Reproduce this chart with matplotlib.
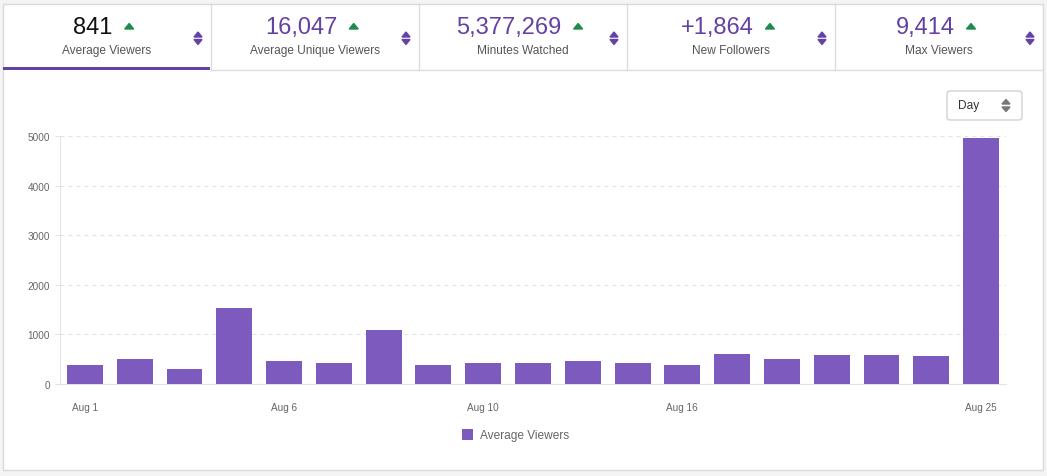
import matplotlib
matplotlib.use("Agg")
import matplotlib.pyplot as plt
from matplotlib.patches import Rectangle, FancyBboxPatch, Polygon
from matplotlib import rcParams

rcParams['font.family'] = ['Liberation Sans', 'DejaVu Sans']

# ---- data ----
day_labels = ["Aug 1", "", "", "", "Aug 6", "", "", "", "Aug 10", "", "", "",
              "Aug 16", "", "", "", "", "", "Aug 25"]
avg_viewers = [383, 503, 302, 1530, 463, 429, 1093, 383, 429, 429, 463, 429,
               383, 604, 503, 584, 584, 564, 4954]
y_ticks = [0, 1000, 2000, 3000, 4000, 5000]

tab_values = ["841", "16,047", "5,377,269", "+1,864", "9,414"]
tab_names = ["Average Viewers", "Average Unique Viewers", "Minutes Watched",
             "New Followers", "Max Viewers"]

purple = "#7d5bbe"
dark_purple = "#6441a4"
green = "#1f8b4c"
grey_txt = "#666666"
line_col = "#e3e3e3"

W, H = 1047, 477
fig = plt.figure(figsize=(W / 100, H / 100), dpi=100)
fig.patch.set_facecolor("#f4f4f4")

# background / header drawn in pixel coordinates
bg = fig.add_axes([0, 0, 1, 1], zorder=0)
bg.set_xlim(0, W)
bg.set_ylim(H, 0)
bg.axis("off")

bg.add_patch(Rectangle((3, 5), 1040, 466, facecolor="white", edgecolor="#dadada", lw=1))

tab_w = 208
for i in range(5):
    x0 = 3 + i * tab_w
    cx = x0 + tab_w / 2
    if i > 0:
        bg.plot([x0, x0], [5, 71], color="#dcdcdc", lw=1)
    # value + green arrow
    col = "#111111" if i == 0 else dark_purple
    t = bg.text(cx - 14, 28, tab_values[i], ha="center", va="center",
                fontsize=17, color=col)
    r = fig.canvas.get_renderer()
    bb = t.get_window_extent(renderer=r)
    right = bb.x1 + 12
    bg.add_patch(Polygon([[right, 30], [right + 9, 30], [right + 4.5, 24.5]],
                         closed=True, color=green))
    bg.text(cx, 51, tab_names[i], ha="center", va="center", fontsize=8.6,
            color="#555555")
    # sort arrows
    ax_x = x0 + tab_w - 13
    bg.add_patch(Polygon([[ax_x - 4, 38], [ax_x + 4, 38], [ax_x, 33]],
                         closed=True, color=dark_purple))
    bg.add_patch(Polygon([[ax_x - 4, 40.5], [ax_x + 4, 40.5], [ax_x, 45.5]],
                         closed=True, color=dark_purple))

bg.plot([211, 1043], [71, 71], color="#dcdcdc", lw=1)
bg.add_patch(Rectangle((3, 67.5), 207, 3.5, color=dark_purple, lw=0))

# "Day" dropdown
bg.add_patch(FancyBboxPatch((947, 92), 75, 29, boxstyle="round,pad=0,rounding_size=3",
                            facecolor="white", edgecolor="#d2d2d2", lw=1))
bg.text(958, 106.5, "Day", ha="left", va="center", fontsize=8.6, color="#333333")
bg.add_patch(Polygon([[1002, 105], [1010, 105], [1006, 100.5]], closed=True, color="#777777"))
bg.add_patch(Polygon([[1002, 108], [1010, 108], [1006, 112.5]], closed=True, color="#777777"))

# legend
bg.add_patch(Rectangle((462, 430), 11, 11, color=purple, lw=0))
bg.text(480, 436, "Average Viewers", ha="left", va="center", fontsize=8.6,
        color=grey_txt)

# ---- chart ----
ax = fig.add_axes([60 / W, (H - 385) / H, 946 / W, 248 / H], zorder=1)
ax.set_facecolor("none")
x = list(range(len(avg_viewers)))
ax.bar(x, avg_viewers, width=0.72, color=purple, zorder=3)

ax.set_xlim(-0.5, len(avg_viewers) - 0.5)
ax.set_ylim(0, 5000)
ax.set_yticks(y_ticks)
ax.set_yticklabels([str(v) for v in y_ticks])
ax.set_xticks([i for i, l in enumerate(day_labels) if l])
ax.set_xticklabels([l for l in day_labels if l])

ax.yaxis.grid(True, color=line_col, linestyle=(0, (3.6, 3.6)), lw=0.8, zorder=0)
ax.xaxis.grid(False)
for s in ["top", "right"]:
    ax.spines[s].set_visible(False)
for s in ["left", "bottom"]:
    ax.spines[s].set_color(line_col)
    ax.spines[s].set_linewidth(0.8)

ax.tick_params(axis="y", length=3.6, width=0.8, color=line_col, pad=3.6,
               labelsize=7.2, labelcolor=grey_txt)
ax.tick_params(axis="x", length=0, pad=13, labelsize=7.2, labelcolor=grey_txt)

fig.savefig("out.png", dpi=100, facecolor=fig.get_facecolor())
